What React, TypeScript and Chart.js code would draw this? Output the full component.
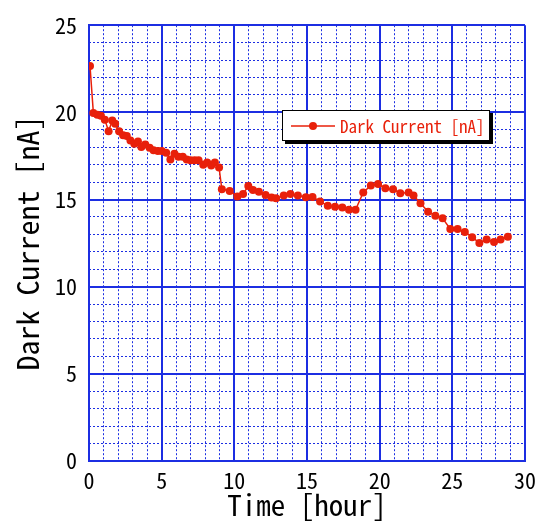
import React, { useEffect, useRef } from "react";
import { Chart, registerables } from "chart.js";

Chart.register(...registerables);

const times: number[] = [
  0.07, 0.3, 0.57, 0.82, 1.09, 1.35, 1.6, 1.8, 2.07, 2.35, 2.6, 2.85, 3.12, 3.37, 3.6, 3.87,
  4.17, 4.44, 4.74, 5.01, 5.31, 5.6, 5.88, 6.15, 6.45, 6.72, 6.99, 7.27, 7.54, 7.86, 8.13,
  8.41, 8.66, 8.95, 9.14, 9.68, 10.21, 10.6, 10.96, 11.28, 11.69, 12.15, 12.56, 12.87, 13.4,
  13.86, 14.37, 14.92, 15.38, 15.9, 16.43, 16.93, 17.43, 17.89, 18.34, 18.87, 19.39, 19.89,
  20.39, 20.92, 21.42, 21.99, 22.33, 22.81, 23.33, 23.83, 24.33, 24.86, 25.36, 25.86, 26.36,
  26.86, 27.36, 27.87, 28.32, 28.82,
];
const darkCurrent: number[] = [
  22.66, 19.97, 19.87, 19.81, 19.57, 18.92, 19.53, 19.34, 18.92, 18.68, 18.64, 18.39, 18.2,
  18.33, 18.01, 18.16, 17.97, 17.82, 17.79, 17.79, 17.69, 17.29, 17.63, 17.45, 17.45, 17.29,
  17.25, 17.25, 17.25, 16.99, 17.12, 16.95, 17.12, 16.84, 15.59, 15.49, 15.17, 15.32, 15.77,
  15.55, 15.45, 15.26, 15.11, 15.07, 15.23, 15.32, 15.23, 15.13, 15.15, 14.89, 14.64, 14.58,
  14.54, 14.41, 14.41, 15.4, 15.81, 15.89, 15.64, 15.59, 15.36, 15.4, 15.23, 14.79, 14.3,
  14.07, 13.92, 13.31, 13.31, 13.14, 12.84, 12.51, 12.7, 12.57, 12.7, 12.86,
];
const seriesLabel = "Dark Current [nA]";
const xTitle = "Time [hour]";
const yTitle = "Dark Current [nA]";

const FONT = '"Noto Sans Mono CJK JP", "Noto Sans CJK JP", "DejaVu Sans Mono", monospace';
const BLUE = "rgb(28,46,226)";
const RED = "rgb(232,32,10)";

export default function App() {
  const canvasRef = useRef<HTMLCanvasElement | null>(null);

  useEffect(() => {
    document.body.style.margin = "0";
    document.body.style.overflow = "hidden";
    const canvas = canvasRef.current;
    if (!canvas) return;
    const chart = new Chart(canvas, {
      type: "line",
      data: {
        datasets: [
          {
            label: seriesLabel,
            data: times.map((t, i) => ({ x: t, y: darkCurrent[i] })),
            borderColor: RED,
            backgroundColor: RED,
            borderWidth: 1.5,
            pointRadius: 4,
            pointBorderWidth: 0,
            pointBackgroundColor: RED,
            tension: 0,
          },
        ],
      },
      options: {
        animation: false,
        responsive: false,
        devicePixelRatio: 1,
        layout: { padding: { left: 0, top: 20, right: 13, bottom: 0 } },
        plugins: { legend: { display: false }, tooltip: { enabled: false } },
        scales: {
          x: {
            type: "linear",
            position: "bottom",
            min: 0,
            max: 30,
            ticks: {
              stepSize: 5,
              color: "#000",
              font: { family: FONT, size: 22, weight: "300" },
              padding: 6,
              maxRotation: 0,
            },
            grid: { color: BLUE, lineWidth: 2, drawTicks: false },
            border: { color: BLUE, width: 2 },
            title: {
              display: true,
              text: xTitle,
              color: "#000",
              font: { family: FONT, size: 29, weight: "300" },
              padding: { top: 0, bottom: 0 },
            },
            afterFit: (s: any) => {
              s.height = 61;
            },
          },
          x2: {
            type: "linear",
            position: "bottom",
            min: 0,
            max: 30,
            ticks: { stepSize: 1, display: false },
            grid: { color: BLUE, lineWidth: 1, drawTicks: false },
            border: { display: false, dash: [2, 2] },
            afterFit: (s: any) => {
              s.height = 0;
            },
          },
          y: {
            type: "linear",
            position: "left",
            min: 0,
            max: 25,
            ticks: {
              stepSize: 5,
              color: "#000",
              font: { family: FONT, size: 22, weight: "300" },
              padding: 12,
            },
            grid: { color: BLUE, lineWidth: 2, drawTicks: false },
            border: { color: BLUE, width: 2 },
            title: {
              display: true,
              text: yTitle,
              color: "#000",
              font: { family: FONT, size: 30, weight: "300" },
              padding: { top: 10, bottom: 0 },
            },
            afterFit: (s: any) => {
              s.width = 89;
            },
          },
          y2: {
            type: "linear",
            position: "left",
            min: 0,
            max: 25,
            ticks: { stepSize: 1, display: false },
            grid: { color: BLUE, lineWidth: 1, drawTicks: false },
            border: { display: false, dash: [2, 2] },
            afterFit: (s: any) => {
              s.width = 0;
            },
          },
        },
      },
    });
    return () => chart.destroy();
  }, []);

  return (
    <div style={{ position: "relative", width: 542, height: 522, background: "#fff" }}>
      <canvas ref={canvasRef} width={542} height={522} style={{ display: "block" }} />
      <div
        style={{
          position: "absolute",
          left: 282,
          top: 110,
          width: 206,
          height: 29,
          background: "#fff",
          border: "1px solid #000",
          boxShadow: "3px 3px 0 #000",
          display: "flex",
          alignItems: "center",
          fontFamily: FONT,
          fontSize: 17,
          fontWeight: 300,
          color: RED,
          whiteSpace: "nowrap",
        }}
      >
        <svg width={46} height={12} style={{ marginLeft: 8, marginRight: 3 }}>
          <line x1={0} y1={6} x2={44} y2={6} stroke={RED} strokeWidth={1.5} />
          <circle cx={22} cy={6} r={4} fill={RED} />
        </svg>
        <span>{seriesLabel}</span>
      </div>
    </div>
  );
}
